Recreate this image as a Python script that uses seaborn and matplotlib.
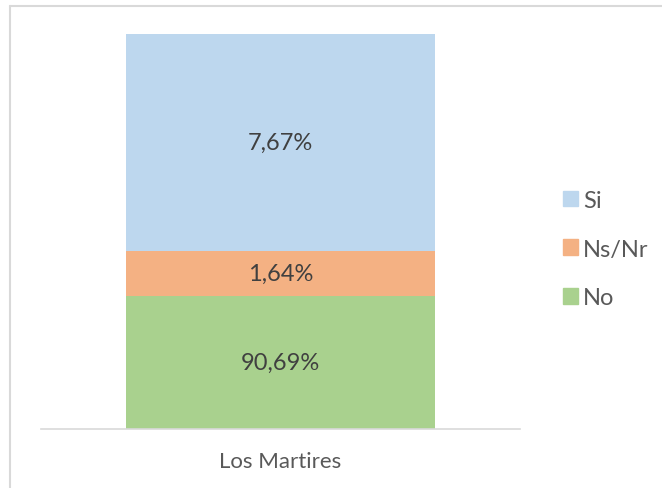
import pandas as pd
import numpy as np
import matplotlib.pyplot as plt
import seaborn as sns
from matplotlib.patches import Patch
from matplotlib.lines import Line2D

# Datos (alturas, etiquetas tal como aparecen)
categoria = ['Los Martires']
series = ['No', 'Ns/Nr', 'Si']
alturas = [33.7, 11.4, 54.9]
etiquetas = ['90,69%', '1,64%', '7,67%']
colores = ['#a9d18e', '#f4b183', '#bdd7ee']

sns.set_style('white')
plt.rcParams['font.family'] = ['Lato', 'DejaVu Sans']

fig = plt.figure(figsize=(6.62, 4.89), dpi=100)
ax = fig.add_axes([41 / 662, 59 / 489, 479 / 662, 395 / 489])

# barras apiladas: se dibuja primero el acumulado mas alto
acum = np.cumsum(alturas)
for i in reversed(range(len(series))):
    df = pd.DataFrame({'cat': categoria, 'val': [acum[i]]})
    sns.barplot(data=df, x='cat', y='val', color=colores[i], width=0.645,
                saturation=1, ax=ax, edgecolor='none')

bases = np.concatenate([[0], acum[:-1]])
for b, h, t in zip(bases, alturas, etiquetas):
    ax.text(0, b + h / 2, t, ha='center', va='center', fontsize=17, color='#404040')

ax.set_xlim(-0.5, 0.5)
ax.set_ylim(0, 100)
ax.set_yticks([])
ax.set_xlabel('')
ax.set_ylabel('')
for s in ['top', 'right', 'left']:
    ax.spines[s].set_visible(False)
ax.spines['bottom'].set_color('#d9d9d9')
ax.spines['bottom'].set_linewidth(1.2)
ax.tick_params(axis='x', length=0, labelsize=16, labelcolor='#595959', pad=16)

handles = [Patch(color=colores[i], label=series[i]) for i in reversed(range(3))]
fig.legend(handles=handles, loc='center left', bbox_to_anchor=(563 / 662, 1 - 250 / 489),
           frameon=False, fontsize=17, labelcolor='#595959', handlelength=0.64,
           handleheight=0.64, handletextpad=0.22, labelspacing=1.18,
           borderpad=0, borderaxespad=0)

# marco del grafico (recortado a la derecha y abajo)
fig.add_artist(Line2D([10 / 662, 10 / 662], [0, 1 - 6.5 / 489], color='#d9d9d9', lw=1.5,
                      transform=fig.transFigure))
fig.add_artist(Line2D([10 / 662, 1], [1 - 6.5 / 489, 1 - 6.5 / 489], color='#d9d9d9', lw=1.5,
                      transform=fig.transFigure))

fig.savefig('out.png', dpi=100)
